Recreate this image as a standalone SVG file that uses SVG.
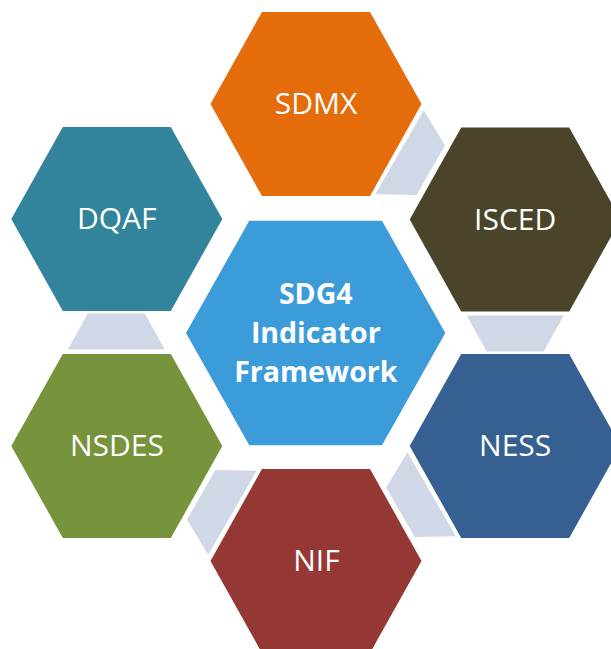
<svg xmlns="http://www.w3.org/2000/svg" width="611" height="649" viewBox="0 0 611 649">
<style>
.lbl{font-family:"Open Sans","Liberation Sans",sans-serif;font-size:30px;fill:#FFFFFF;text-anchor:middle}
.ctr{font-family:"Open Sans","Liberation Sans",sans-serif;font-size:28.5px;font-weight:bold;fill:#FFFFFF;text-anchor:middle}
.con{fill:#D0D8E8}
</style>
<defs>
<polygon id="hex" points="-105.5,0 -54,-92 54,-92 105.5,0 54,92 -54,92"/>
</defs>
<rect width="611" height="649" fill="#FFFFFF"/>
<g id="connectors">
<polygon class="con" points="423.8,110.3 445.0,145.6 416.5,194.9 375.3,194.3"/>
<polygon class="con" points="466.7,315.5 563.7,315.5 543.7,351.5 486.7,351.5"/>
<polygon class="con" points="407.4,452.3 455.9,536.3 414.7,536.9 386.2,487.6"/>
<polygon class="con" points="256.7,470.8 208.2,554.8 187.0,519.4 215.5,470.1"/>
<polygon class="con" points="67.8,349.5 164.8,349.5 144.8,313.5 87.8,313.5"/>
</g>
<g id="sdmx">
<use href="#hex" x="316" y="104" fill="#E46C0A"/>
<text class="lbl" x="316" y="113.5">SDMX</text>
</g>
<g id="isced">
<use href="#hex" x="515.2" y="219.5" fill="#4A452A"/>
<text class="lbl" x="515.2" y="229.5">ISCED</text>
</g>
<g id="ness">
<use href="#hex" x="515.2" y="446" fill="#366092"/>
<text class="lbl" x="515.2" y="455.7">NESS</text>
</g>
<g id="nif">
<use href="#hex" x="316" y="561" fill="#953735"/>
<text class="lbl" x="316.5" y="571">NIF</text>
</g>
<g id="nsdes">
<use href="#hex" x="116.8" y="446" fill="#77933C"/>
<text class="lbl" x="117" y="455.7">NSDES</text>
</g>
<g id="dqaf">
<use href="#hex" x="116.8" y="219" fill="#31849B"/>
<text class="lbl" x="116.8" y="229">DQAF</text>
</g>
<g id="center">
<polygon points="186,333 249.3,220.7 382,220.7 445.3,333 382,445.3 249.3,445.3" fill="#3C9BD9"/>
<text class="ctr" x="315.8" y="304">SDG4</text>
<text class="ctr" x="315.8" y="342.5">Indicator</text>
<text class="ctr" x="315.8" y="381.5">Framework</text>
</g>
</svg>
